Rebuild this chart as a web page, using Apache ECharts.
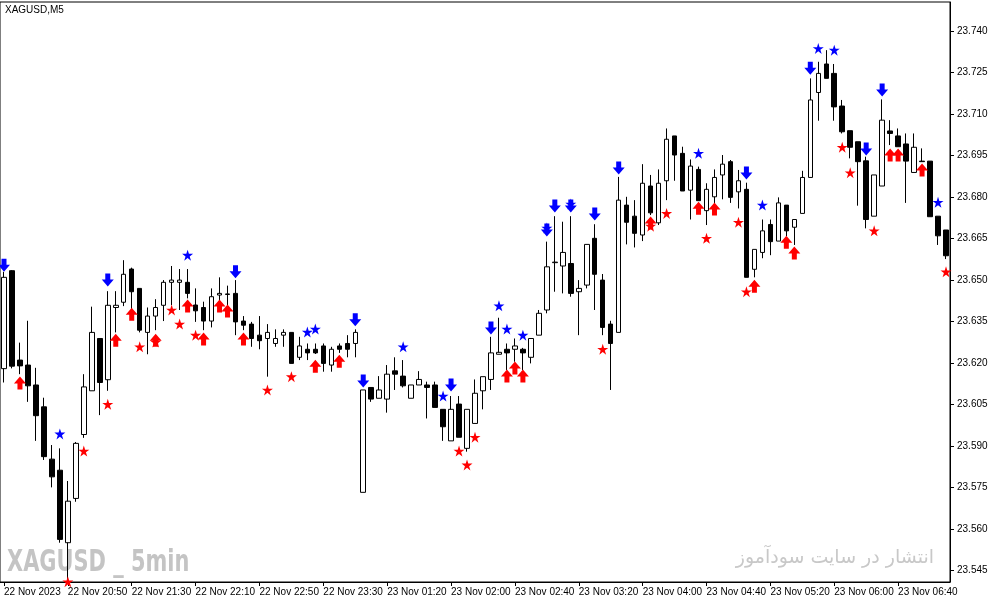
<!DOCTYPE html>
<html><head><meta charset="utf-8">
<script src="https://cdn.jsdelivr.net/npm/echarts@6/dist/echarts.min.js"></script>
<style>html,body{margin:0;padding:0;background:#fff}#c{width:991px;height:605px}</style>
</head><body><div id="c"></div>
<script>
const xTickLabels = ["22 Nov 2023","22 Nov 20:50","22 Nov 21:30","22 Nov 22:10","22 Nov 22:50","22 Nov 23:30","23 Nov 01:20","23 Nov 02:00","23 Nov 02:40","23 Nov 03:20","23 Nov 04:00","23 Nov 04:40","23 Nov 05:20","23 Nov 06:00","23 Nov 06:40"];
const yTickValues = [23.545,23.560,23.575,23.590,23.605,23.620,23.635,23.650,23.665,23.680,23.695,23.710,23.725,23.740];

const opens = [23.618,23.6534,23.6211,23.6193,23.6121,23.6042,23.5853,23.5813,23.5551,23.5711,
23.5942,23.610,23.6289,23.614,23.6401,23.642,23.654,23.647,23.6311,23.637,
23.6409,23.6492,23.6492,23.6492,23.641,23.6401,23.6352,23.6446,23.6448,23.6452,
23.6352,23.6341,23.6301,23.6289,23.6271,23.6301,23.6311,23.6221,23.625,23.625,
23.6262,23.6193,23.6262,23.6271,23.6271,23.5733,23.6112,23.6073,23.607,23.6172,
23.6153,23.6073,23.6121,23.6121,23.6121,23.6033,23.5919,23.6052,23.5892,23.5982,
23.610,23.6141,23.6232,23.625,23.625,23.625,23.6221,23.6301,23.6392,23.6563,
23.6551,23.656,23.6458,23.6482,23.6651,23.650,23.6341,23.6311,23.6771,23.6731,
23.6663,23.684,23.6707,23.6859,23.7021,23.6958,23.6825,23.690,23.6751,23.6801,
23.688,23.6928,23.6819,23.6828,23.6539,23.660,23.6701,23.6641,23.6771,23.6691,
23.6741,23.6871,23.7178,23.7281,23.7247,23.7129,23.704,23.700,23.6931,23.6731,
23.684,23.7039,23.7021,23.6992,23.6889,23.693,23.693,23.6731,23.6681];
const closes = [23.651,23.6189,23.619,23.6118,23.601,23.5862,23.5789,23.5563,23.5701,23.591,
23.6114,23.6311,23.613,23.6409,23.6409,23.6521,23.6458,23.6319,23.637,23.6401,
23.6492,23.650,23.650,23.6452,23.6389,23.6352,23.644,23.6452,23.645,23.6349,
23.6337,23.6289,23.6281,23.6311,23.6289,23.6311,23.6199,23.6262,23.6237,23.6237,
23.6199,23.625,23.625,23.625,23.6311,23.6103,23.607,23.6103,23.616,23.616,
23.6118,23.6121,23.6141,23.6112,23.604,23.597,23.6033,23.5932,23.6033,23.6091,
23.6151,23.6237,23.6239,23.6237,23.6262,23.6237,23.6289,23.638,23.6548,23.6565,
23.660,23.6452,23.647,23.6629,23.6521,23.6329,23.6271,23.6789,23.6709,23.6669,
23.685,23.6743,23.685,23.7009,23.6952,23.6822,23.6912,23.6787,23.6828,23.6871,
23.6919,23.6799,23.6859,23.651,23.6611,23.6678,23.6639,23.6779,23.6678,23.6719,
23.6871,23.7151,23.7247,23.7229,23.7126,23.7036,23.698,23.6928,23.6719,23.688,
23.7078,23.703,23.6982,23.693,23.698,23.6928,23.6729,23.666,23.6588];
const lows = [23.613,23.6181,23.616,23.606,23.5919,23.585,23.5751,23.5551,23.5416,23.5699,
23.593,23.610,23.6012,23.610,23.6311,23.6406,23.6386,23.6311,23.6232,23.6319,
23.6352,23.641,23.6392,23.6434,23.6349,23.6319,23.6329,23.641,23.641,23.6301,
23.6319,23.6259,23.625,23.6151,23.6259,23.6259,23.6199,23.6211,23.6211,23.6233,
23.6169,23.6169,23.6237,23.6221,23.6221,23.5733,23.606,23.6073,23.6021,23.6103,
23.6112,23.6073,23.6121,23.600,23.604,23.5919,23.5919,23.5932,23.588,23.5982,
23.6033,23.6103,23.6232,23.6175,23.6205,23.6175,23.6199,23.6301,23.638,23.6458,
23.6452,23.644,23.6301,23.647,23.6392,23.6301,23.6103,23.6311,23.6629,23.6618,
23.6641,23.6735,23.6699,23.6789,23.6859,23.6822,23.6719,23.6787,23.6699,23.6759,
23.6792,23.6779,23.6759,23.651,23.651,23.6579,23.659,23.6641,23.6659,23.6627,
23.6741,23.6871,23.7076,23.7229,23.7076,23.703,23.694,23.6769,23.6687,23.6731,
23.684,23.6988,23.6982,23.6779,23.6889,23.6928,23.6729,23.6627,23.6576];
const highs = [23.653,23.6536,23.6274,23.6353,23.6183,23.6075,23.5904,23.5892,23.5774,23.5915,
23.616,23.6404,23.629,23.646,23.646,23.6572,23.6545,23.647,23.6401,23.6431,
23.650,23.6551,23.654,23.654,23.647,23.6422,23.647,23.651,23.648,23.650,
23.637,23.6349,23.637,23.6341,23.6322,23.6322,23.6311,23.6295,23.6271,23.6271,
23.6271,23.6259,23.6271,23.6301,23.6322,23.6103,23.6112,23.6153,23.6193,23.6221,
23.6211,23.6121,23.6171,23.6133,23.6133,23.6033,23.6081,23.6081,23.6033,23.6141,
23.6151,23.6295,23.6364,23.6271,23.6289,23.6255,23.6289,23.6392,23.6639,23.6731,
23.6711,23.6731,23.650,23.6629,23.6702,23.6522,23.6353,23.6873,23.6801,23.6789,
23.6919,23.688,23.690,23.7048,23.7021,23.6982,23.6936,23.691,23.685,23.690,
23.6952,23.6934,23.6898,23.6852,23.6611,23.6719,23.6719,23.6799,23.6771,23.6719,
23.6895,23.7229,23.7289,23.7331,23.7281,23.7151,23.704,23.700,23.6946,23.688,
23.7153,23.7078,23.7048,23.703,23.703,23.6976,23.693,23.6731,23.6681];

const blueArrowBars = [0,13,29,44,45,56,61,68,69,71,74,77,93,101,108,110];
const blueArrowPrices = [23.6554,23.650,23.653,23.6357,23.6135,23.6121,23.6327,23.6681,23.6768,23.6768,23.6739,23.6905,23.6887,23.7266,23.6974,23.7187];
const blueStarBars = [7,23,38,39,50,55,62,63,65,68,71,87,95,102,104,117];
const blueStarPrices = [23.5944,23.659,23.6312,23.6323,23.6259,23.6081,23.6407,23.6323,23.6301,23.6688,23.6775,23.6958,23.6771,23.7337,23.7331,23.6781];
const redArrowBars = [2,14,16,19,23,25,27,28,30,39,42,63,64,65,81,87,89,94,98,99,111,112,115];
const redArrowPrices = [23.6128,23.6283,23.6377,23.6283,23.6406,23.6287,23.6406,23.6388,23.6287,23.6189,23.6207,23.6153,23.6182,23.6153,23.6706,23.676,23.6757,23.6478,23.6637,23.6598,23.6952,23.6952,23.6898];
const redStarBars = [8,10,13,17,19,21,22,24,33,36,57,58,59,75,81,83,88,92,93,105,106,109,118];
const redStarPrices = [23.541,23.5882,23.6051,23.6259,23.6276,23.6392,23.6341,23.6301,23.6103,23.6151,23.5882,23.5832,23.5932,23.625,23.6695,23.6741,23.6651,23.6709,23.6458,23.698,23.6888,23.6678,23.653];

const categories = opens.map((_, i) => String(i));
const candles = opens.map((o, i) => [o, closes[i], lows[i], highs[i]]);
const pairs = (bars, prices) => bars.map((b, i) => [b, prices[i]]);

const DOWN = 'path://M3.5,0 H8.5 V6 H12 L6,13 L0,6 H3.5 Z';
const UP = 'path://M6,0 L12,7 H8.5 V13 H3.5 V7 H0 Z';
const STAR = 'path://M5,0 L6.18,3.6 L10,3.6 L6.9,5.8 L8.1,9.5 L5,7.2 L1.9,9.5 L3.1,5.8 L0,3.6 L3.82,3.6 Z';

const chart = echarts.init(document.getElementById('c'), null, {renderer: 'canvas'});
const tickEvery = (i) => i % 8 === 0;
chart.setOption({
  animation: false,
  backgroundColor: '#ffffff',
  grid: {left: 0, right: 41, top: 2, bottom: 23, show: true, borderColor: '#000', borderWidth: 1, backgroundColor: '#fff'},
  xAxis: {
    type: 'category', data: categories, boundaryGap: true,
    axisLine: {show: true, lineStyle: {color: '#000', width: 1}},
    axisTick: {show: true, interval: tickEvery, alignWithLabel: true, length: 4, inside: false, lineStyle: {color: '#000'}},
    axisLabel: {interval: tickEvery, align: 'left', margin: 5, color: '#000', fontSize: 10, fontFamily: 'Liberation Sans',
      formatter: (v, idx) => { const k = Number(v); return k % 8 === 0 ? (xTickLabels[k / 8] || '') : ''; }},
    splitLine: {show: false}
  },
  yAxis: {
    type: 'value', position: 'right', min: 23.5409, max: 23.7505, scale: true,
    axisLine: {show: true, lineStyle: {color: '#000', width: 1}},
    axisTick: {show: true, length: 4, lineStyle: {color: '#000'}, customValues: yTickValues},
    axisLabel: {color: '#000', fontSize: 10, fontFamily: 'Liberation Sans', margin: 7, customValues: yTickValues,
      formatter: (v) => Number(v).toFixed(3)},
    splitLine: {show: false}
  },
  graphic: [
    {type: 'text', left: 5, top: 5, z: 100, style: {text: 'XAGUSD,M5', fill: '#000', font: '10px "Liberation Sans"'}},
    {type: 'text', x: 7, y: 547, scaleX: 0.75, z: 0, style: {text: 'XAGUSD _ 5min', fill: '#c4c4c4', font: 'bold 31px "DejaVu Sans Condensed"'}},
    {type: 'text', right: 57, top: 549, z: 0, style: {text: 'انتشار در سایت سودآموز', fill: '#c8c8c8', font: '19px "DejaVu Sans"'}}
  ],
  series: [
    {type: 'candlestick', data: candles, barWidth: 5,
      itemStyle: {color: '#ffffff', color0: '#000000', borderColor: '#000000', borderColor0: '#000000', borderWidth: 1}},
    {type: 'scatter', data: pairs(blueArrowBars, blueArrowPrices), symbol: DOWN, symbolSize: [12, 13], clip: false, z: 5,
      itemStyle: {color: '#0000ff', opacity: 1}},
    {type: 'scatter', data: pairs(blueStarBars, blueStarPrices), symbol: STAR, symbolSize: [11, 11], clip: false, z: 6,
      itemStyle: {color: '#0000ff', opacity: 1}},
    {type: 'scatter', data: pairs(redArrowBars, redArrowPrices), symbol: UP, symbolSize: [12, 13], clip: false, z: 5,
      itemStyle: {color: '#ff0000', opacity: 1}},
    {type: 'scatter', data: pairs(redStarBars, redStarPrices), symbol: STAR, symbolSize: [11, 11], clip: false, z: 6,
      itemStyle: {color: '#ff0000', opacity: 1}}
  ]
});
</script></body></html>
